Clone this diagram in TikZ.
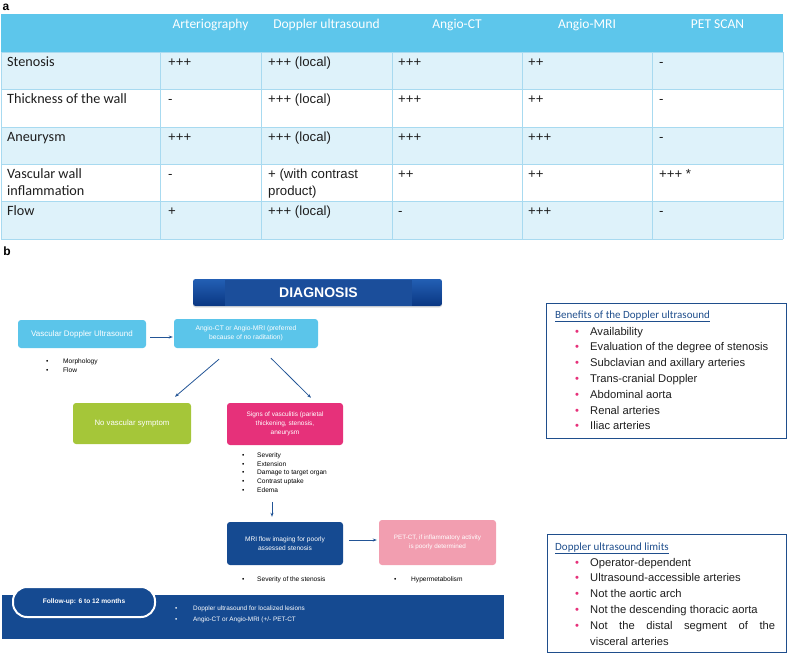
\documentclass[tikz,border=0pt]{standalone}
\usepackage{fontspec}
\setmainfont{Liberation Sans}
\newfontfamily\calib{Carlito}
\usetikzlibrary{arrows.meta,shadows}
\definecolor{hdr}{RGB}{93,198,235}
\definecolor{rowlt}{RGB}{222,242,250}
\definecolor{gridc}{RGB}{168,218,240}
\definecolor{lblue}{RGB}{91,197,234}
\definecolor{gren}{RGB}{165,198,57}
\definecolor{mag}{RGB}{230,49,122}
\definecolor{dblue}{RGB}{21,74,145}
\definecolor{lpink}{RGB}{242,158,176}
\definecolor{arrowc}{RGB}{35,85,150}
\definecolor{diagtop}{RGB}{35,95,180}
\definecolor{diagbot}{RGB}{10,55,130}
\definecolor{diagin}{RGB}{27,78,155}
\definecolor{frameb}{RGB}{31,78,140}
\definecolor{bpink}{RGB}{230,49,122}
\definecolor{txt}{RGB}{30,30,30}
\begin{document}
\begin{tikzpicture}[x=1pt,y=-1pt,
  box/.style={rounded corners=3pt, inner sep=1pt, align=center, text=white, font=\fontsize{6.7}{8.6}\selectfont},
  arr/.style={draw=arrowc, line width=0.8pt, -{Stealth[length=4pt,width=3pt]}},
  cell/.style={anchor=base west, inner sep=0, text=txt, font=\fontsize{13.2}{15}\selectfont},
  fcell/.style={anchor=base west, inner sep=0, text=txt, font=\calib\fontsize{14.2}{15}\selectfont},
  hcell/.style={anchor=base, inner sep=0, text=white, font=\calib\fontsize{13.5}{15}\selectfont},
  blist/.style={anchor=north west, inner sep=0, align=left, font=\fontsize{6.6}{8.8}\selectfont},
  rlist/.style={anchor=north west, inner sep=0, align=left, text=txt, font=\fontsize{11.2}{15.8}\selectfont},
  rtitle/.style={anchor=base west, inner sep=0, text=frameb, font=\calib\fontsize{11}{13}\selectfont},
  frame/.style={draw=frameb, line width=0.8pt, inner sep=0},
  lab/.style={inner sep=0, font=\bfseries\fontsize{12}{14}\selectfont}
]
\useasboundingbox (0,0) rectangle (787,654);
\newcommand{\bul}{\makebox[17pt][l]{\textbullet}}
\newcommand{\pbul}{\makebox[15pt][l]{\textcolor{bpink}{\textbullet}}}

% ---------- labels
\node[lab] (la) at (6,7) {a};
\node[lab] (lb) at (7,251) {b};

% ---------- table
\fill[hdr] (1,14) rectangle (783,52);
\fill[rowlt] (1,52) rectangle (783,89);
\fill[rowlt] (1,127) rectangle (783,164);
\fill[rowlt] (1,201) rectangle (783,239);
\foreach \yy in {52,89,127,164,201,239} \draw[gridc, line width=0.8pt] (1,\yy) -- (783,\yy);
\foreach \xx in {1,160,261,392,522,652,783} \draw[gridc, line width=0.8pt] (\xx,52) -- (\xx,239);

\node[hcell] (h1) at (210.5,28) {Arteriography};
\node[hcell] (h2) at (326.5,28) {Doppler ultrasound};
\node[hcell] (h3) at (457,28) {Angio-CT};
\node[hcell] (h4) at (587,28) {Angio-MRI};
\node[hcell] (h5) at (717.5,28) {PET SCAN};

\node[fcell] (r1) at (7,66) {Stenosis};
\node[fcell] (r2) at (7,103) {Thickness of the wall};
\node[fcell] (r3) at (7,141) {Aneurysm};
\node[fcell] (r4) at (7,178) {Vascular wall};
\node[fcell] (r4b) at (7,195) {inflammation};
\node[fcell] (r5) at (7,215) {Flow};

\node[cell] (c11) at (168,66) {+++};
\node[cell] (c12) at (268,66) {+++ (local)};
\node[cell] (c13) at (398,66) {+++};
\node[cell] (c14) at (528,66) {++};
\node[cell] (c15) at (659,66) {-};

\node[cell] (c21) at (168,103) {-};
\node[cell] (c22) at (268,103) {+++ (local)};
\node[cell] (c23) at (398,103) {+++};
\node[cell] (c24) at (528,103) {++};
\node[cell] (c25) at (659,103) {-};

\node[cell] (c31) at (168,141) {+++};
\node[cell] (c32) at (268,141) {+++ (local)};
\node[cell] (c33) at (398,141) {+++};
\node[cell] (c34) at (528,141) {+++};
\node[cell] (c35) at (659,141) {-};

\node[cell] (c41) at (168,178) {-};
\node[cell] (c42) at (268,178) {+ (with contrast};
\node[cell] (c42b) at (268,195) {product)};
\node[cell] (c43) at (398,178) {++};
\node[cell] (c44) at (528,178) {++};
\node[cell] (c45) at (659,178) {+++ *};

\node[cell] (c51) at (168,215) {+};
\node[cell] (c52) at (268,215) {+++ (local)};
\node[cell] (c53) at (398,215) {-};
\node[cell] (c54) at (528,215) {+++};
\node[cell] (c55) at (659,215) {-};

% ---------- diagnosis header
\node[rounded corners=2.5pt, minimum width=249, minimum height=27, inner sep=0,
  top color=diagtop, bottom color=diagbot,
  drop shadow={opacity=0.25, shadow xshift=0pt, shadow yshift=-1.5pt}] (diag) at (317.5,292.5) {};
\node[fill=diagin, minimum width=187, minimum height=26, inner sep=0, text=white,
  font=\bfseries\fontsize{14}{16}\selectfont] (diagt) at (318.5,292.5) {DIAGNOSIS};

% ---------- flow boxes
\node[box, fill=lblue, minimum width=128, minimum height=28, font=\fontsize{8}{9}\selectfont] (vdu) at (82,334) {Vascular Doppler Ultrasound};
\node[box, fill=lblue, minimum width=144, minimum height=29] (angio) at (246,333.5) {Angio-CT or Angio-MRI (preferred\\because of no raditation)};
\node[box, fill=gren, minimum width=118, minimum height=41, font=\fontsize{7.8}{9}\selectfont] (novasc) at (132,423.5) {No vascular symptom};
\node[box, fill=mag, minimum width=116, minimum height=42, font=\fontsize{6.5}{9}\selectfont] (signs) at (285,424) {Signs of vasculitis (parietal\\thickening, stenosis,\\aneurysm};
\node[box, fill=dblue, minimum width=116, minimum height=43, font=\fontsize{6.6}{8.6}\selectfont] (mri) at (285,543.5) {MRI flow imaging for poorly\\assessed stenosis};
\node[box, fill=lpink, minimum width=117, minimum height=45, font=\fontsize{6.3}{8.4}\selectfont] (pet) at (437.5,542.5) {PET-CT, if inflammatory activity\\is poorly determined};

% bullet lists
\node[blist] (morph) at (46,358.4) {\bul Morphology\\\bul Flow};
\node[blist] (signl) at (242,452.4) {\makebox[15pt][l]{\textbullet}Severity\\\makebox[15pt][l]{\textbullet}Extension\\\makebox[15pt][l]{\textbullet}Damage to target organ\\\makebox[15pt][l]{\textbullet}Contrast uptake\\\makebox[15pt][l]{\textbullet}Edema};
\node[blist] (mril) at (242,576.4) {\makebox[15pt][l]{\textbullet}Severity of the stenosis};
\node[blist] (petl) at (394,576.4) {\makebox[17pt][l]{\textbullet}Hypermetabolism};

% arrows
\draw[arr] ([shift={(4,3)}]vdu.east) -- ([shift={(-1,3.5)}]angio.west);
\draw[arr] ([shift={(-27,11)}]angio.south) -- ([shift={(43,-6)}]novasc.north);
\draw[arr] ([shift={(25,10)}]angio.south) -- ([shift={(26,-5)}]signs.north);
\draw[arr] ([shift={(-13,-20)}]mri.north) -- ([shift={(-13,-5)}]mri.north);
\draw[arr] ([shift={(6,-3.5)}]mri.east) -- ([shift={(-2,-2.5)}]pet.west);

% ---------- follow-up bar
\node[fill=dblue, minimum width=502, minimum height=44, inner sep=0] (bar) at (253,617) {};
\node[fill=dblue, draw=white, line width=2pt, rounded corners=14pt, minimum width=142, minimum height=30, inner sep=0,
  text=white, font=\bfseries\fontsize{6.6}{8}\selectfont] (follow) at (84,602) {\raisebox{1pt}{Follow-up: 6 to 12 months}};
\node[blist, text=white, font=\fontsize{6.4}{10.7}\selectfont] (barl) at (175,605.6) {\makebox[18pt][l]{\textbullet}Doppler ultrasound for localized lesions\\\makebox[18pt][l]{\textbullet}Angio-CT or Angio-MRI (+/- PET-CT};

% ---------- right boxes
\node[frame, minimum width=240, minimum height=135] (ben) at (666,370.5) {};
\node[rtitle] (bent) at (555,318) {\underline{Benefits of the Doppler ultrasound}};
\node[rlist] (benl) at (575,326.8) {\pbul Availability\\\pbul Evaluation of the degree of stenosis\\\pbul Subclavian and axillary arteries\\\pbul Trans-cranial Doppler\\\pbul Abdominal aorta\\\pbul Renal arteries\\\pbul Iliac arteries};

\node[frame, minimum width=239, minimum height=118] (lim) at (666.5,593) {};
\node[rtitle] (limt) at (555,550) {\underline{Doppler ultrasound limits}};
\node[rlist] (liml) at (575,557.8) {\pbul Operator-dependent\\\pbul Ultrasound-accessible arteries\\\pbul Not the aortic arch\\\pbul Not the descending thoracic aorta\\\pbul \makebox[185pt][s]{Not the distal segment of the}\\\makebox[15pt]{}visceral arteries};
\end{tikzpicture}
\end{document}
